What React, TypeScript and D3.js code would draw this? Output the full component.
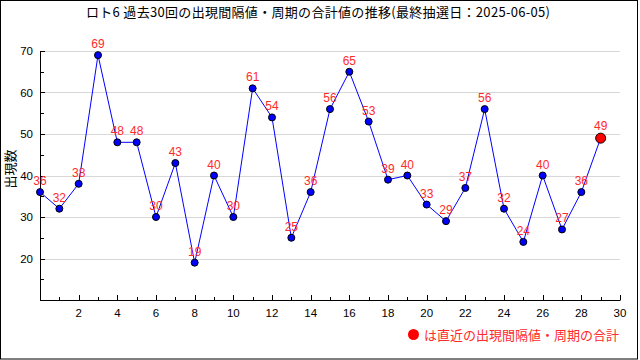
import React from "react";
import * as d3 from "d3";

const drawNumbers = d3.range(0, 30);
const intervalSums = [36, 32, 38, 69, 48, 48, 30, 43, 19, 40, 30, 61, 54, 25, 36, 56, 65, 53, 39, 40, 33, 29, 37, 56, 32, 24, 40, 27, 36, 49];
const yGridValues = [20, 30, 40, 50, 60, 70];
const yMinorValues = [15, 25, 35, 45, 55, 65];
const xMajorValues = d3.range(2, 31, 2);
const xMinorValues = d3.range(1, 30, 2);
const titleText = "ロト6 過去30回の出現間隔値・周期の合計値の推移(最終抽選日：2025-06-05)";
const yAxisLabel = "出現数";
const legendText = "は直近の出現間隔値・周期の合計";

const W = 640;
const H = 360;
const left = 40;
const right = 620;
const top = 51;
const bottom = 300;

export default function App() {
  React.useEffect(() => {
    document.body.style.margin = "0";
  }, []);
  const x = d3.scaleLinear().domain([0, 30]).range([left, right]);
  const y = d3.scaleLinear().domain([10, 70]).range([bottom, top]);
  const line = d3
    .line<number>()
    .x((_, i) => x(drawNumbers[i]))
    .y((d) => y(d));
  const numFont = "'Liberation Sans', Arial, sans-serif";
  const jpFont = "'Noto Sans CJK JP', sans-serif";
  const last = intervalSums.length - 1;
  return (
    <svg width={W} height={H} style={{ display: "block", position: "absolute", left: 0, top: 0 }}>
      <rect x={0.5} y={0.5} width={W - 3} height={H - 1.5} fill="#fff" stroke="#000" />
      <text x={318} y={16.5} textAnchor="middle" fontFamily={jpFont} fontSize={13} fill="#000" textLength={464} lengthAdjust="spacing">
        {titleText}
      </text>
      {yGridValues.map((v) => (
        <line key={"g" + v} x1={left} x2={right} y1={Math.round(y(v)) + 0.5} y2={Math.round(y(v)) + 0.5} stroke="#d8d8d8" />
      ))}
      <line x1={left + 0.5} x2={left + 0.5} y1={top} y2={bottom + 0.5} stroke="#000" />
      <line x1={left} x2={right + 0.5} y1={bottom + 0.5} y2={bottom + 0.5} stroke="#000" />
      {yGridValues.map((v) => (
        <g key={"yt" + v}>
          <line x1={left} x2={left + 5} y1={Math.round(y(v)) + 0.5} y2={Math.round(y(v)) + 0.5} stroke="#000" />
          <text x={33} y={y(v) + 4} textAnchor="end" fontFamily={numFont} fontSize={11.5} fill="#000">
            {v}
          </text>
        </g>
      ))}
      {yMinorValues.map((v) => (
        <line key={"ym" + v} x1={left} x2={left + 4} y1={Math.round(y(v)) + 0.5} y2={Math.round(y(v)) + 0.5} stroke="#000" />
      ))}
      {xMajorValues.map((v) => (
        <g key={"xt" + v}>
          <line x1={Math.round(x(v)) + 0.5} x2={Math.round(x(v)) + 0.5} y1={bottom} y2={bottom - 5} stroke="#000" />
          <text x={x(v)} y={317} textAnchor="middle" fontFamily={numFont} fontSize={11.5} fill="#000">
            {v}
          </text>
        </g>
      ))}
      {xMinorValues.map((v) => (
        <line key={"xm" + v} x1={Math.round(x(v)) + 0.5} x2={Math.round(x(v)) + 0.5} y1={bottom} y2={bottom - 3} stroke="#000" />
      ))}
      <text
        transform={`translate(15,169) rotate(-90)`}
        textAnchor="middle"
        fontFamily={jpFont}
        fontSize={13}
        fill="#000"
      >
        {yAxisLabel}
      </text>
      <path d={line(intervalSums) || ""} fill="none" stroke="#0000ff" strokeWidth={1} />
      {intervalSums.map((v, i) => (
        <circle
          key={"p" + i}
          cx={x(drawNumbers[i])}
          cy={y(v)}
          r={i === last ? 5 : 3.5}
          fill={i === last ? "#ff0000" : "#0000ff"}
          stroke="#000"
          strokeWidth={1}
        />
      ))}
      {intervalSums.map((v, i) => (
        <text
          key={"l" + i}
          x={x(drawNumbers[i])}
          y={y(v) - (i === last ? 8 : 7)}
          textAnchor="middle"
          fontFamily={numFont}
          fontSize={12}
          fill="#ff2a2a"
        >
          {v}
        </text>
      ))}
      <circle cx={413.5} cy={334.5} r={5.5} fill="#ff0000" />
      <text x={619} y={340} textAnchor="end" fontFamily={jpFont} fontSize={13} fill="#ff2a2a">
        {legendText}
      </text>
    </svg>
  );
}
